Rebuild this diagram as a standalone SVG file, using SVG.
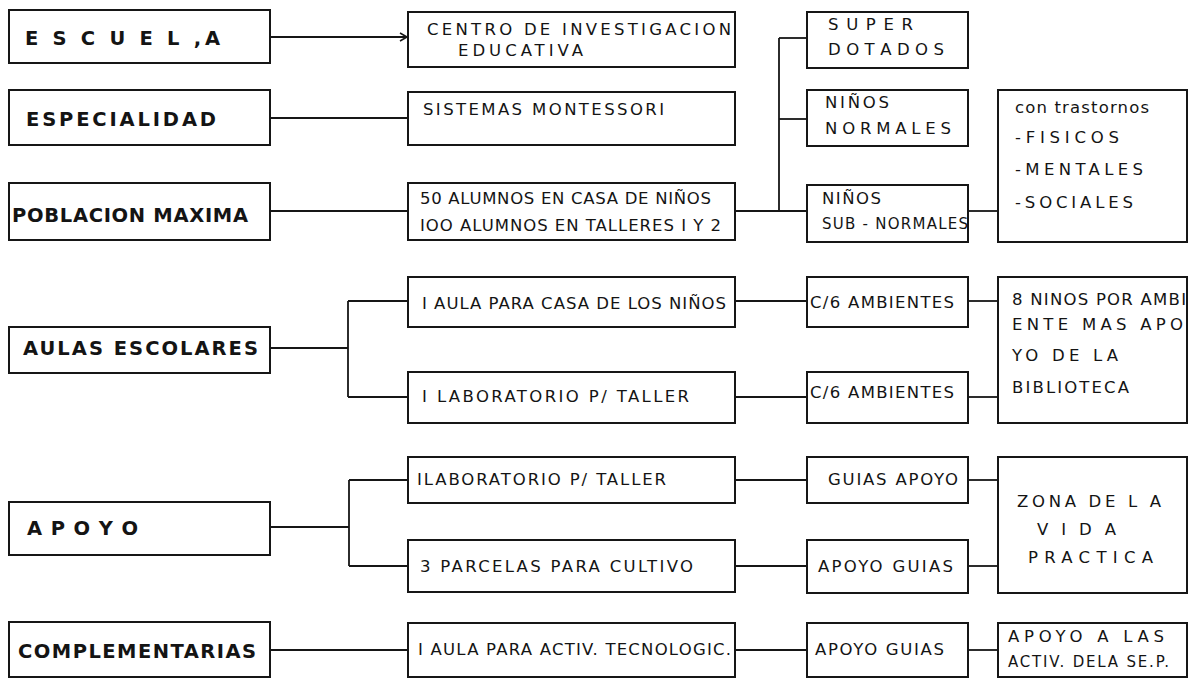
<svg xmlns="http://www.w3.org/2000/svg" width="1190" height="678" viewBox="0 0 1190 678">
<style>
.box{fill:#fff;stroke:#161616;stroke-width:2}
.c{fill:none;stroke:#161616;stroke-width:1.8}
text{font-family:"DejaVu Sans","Liberation Sans",Arial,sans-serif;fill:#141414}
.lt{font-size:19.5px;font-weight:bold}
.mt{font-size:16.5px}
.sm{font-size:15px}
</style>
<defs>
<marker id="arr" markerWidth="10" markerHeight="10" refX="8" refY="5" orient="auto" markerUnits="userSpaceOnUse">
<path d="M1,1 L8,5 L1,9" fill="none" stroke="#161616" stroke-width="1.6"/>
</marker>
</defs>
<rect width="1190" height="678" fill="#fff"/>
<g id="connectors">
<line class="c" x1="270" y1="37" x2="407" y2="37" marker-end="url(#arr)"/>
<line class="c" x1="270" y1="118" x2="408" y2="118"/>
<line class="c" x1="270" y1="211" x2="408" y2="211"/>
<line class="c" x1="735" y1="211" x2="807" y2="211"/>
<line class="c" x1="779" y1="38" x2="779" y2="211"/>
<line class="c" x1="779" y1="38" x2="807" y2="38"/>
<line class="c" x1="779" y1="119" x2="807" y2="119"/>
<line class="c" x1="968" y1="211" x2="998" y2="211"/>
<line class="c" x1="270" y1="348" x2="348" y2="348"/>
<line class="c" x1="348" y1="301" x2="348" y2="397"/>
<line class="c" x1="348" y1="301" x2="408" y2="301"/>
<line class="c" x1="348" y1="397" x2="408" y2="397"/>
<line class="c" x1="735" y1="301" x2="807" y2="301"/>
<line class="c" x1="735" y1="397" x2="807" y2="397"/>
<line class="c" x1="968" y1="301" x2="998" y2="301"/>
<line class="c" x1="968" y1="397" x2="998" y2="397"/>
<line class="c" x1="270" y1="527" x2="349" y2="527"/>
<line class="c" x1="349" y1="480" x2="349" y2="566"/>
<line class="c" x1="349" y1="480" x2="408" y2="480"/>
<line class="c" x1="349" y1="566" x2="408" y2="566"/>
<line class="c" x1="735" y1="480" x2="807" y2="480"/>
<line class="c" x1="735" y1="566" x2="807" y2="566"/>
<line class="c" x1="968" y1="480" x2="998" y2="480"/>
<line class="c" x1="968" y1="566" x2="998" y2="566"/>
<line class="c" x1="270" y1="650" x2="408" y2="650"/>
<line class="c" x1="735" y1="650" x2="807" y2="650"/>
<line class="c" x1="968" y1="650" x2="998" y2="650"/>
</g>
<g id="escuela"><rect class="box" x="9" y="10" width="261" height="53"/><text class="lt" x="25" y="45" textLength="195" lengthAdjust="spacing">E S C U E L ,A</text></g>
<g id="especialidad"><rect class="box" x="9" y="90" width="261" height="55"/><text class="lt" x="26" y="126" textLength="190" lengthAdjust="spacing">ESPECIALIDAD</text></g>
<g id="poblacion"><rect class="box" x="9" y="183" width="261" height="57"/><text class="lt" x="12" y="222" textLength="236" lengthAdjust="spacing">POBLACION MAXIMA</text></g>
<g id="aulas"><rect class="box" x="9" y="327" width="261" height="46"/><text class="lt" x="23" y="355" textLength="235" lengthAdjust="spacing">AULAS ESCOLARES</text></g>
<g id="apoyo"><rect class="box" x="9" y="502" width="261" height="53"/><text class="lt" x="27" y="535" textLength="111" lengthAdjust="spacing">A P O Y O</text></g>
<g id="complementarias"><rect class="box" x="9" y="622" width="261" height="55"/><text class="lt" x="18" y="658" textLength="238" lengthAdjust="spacing">COMPLEMENTARIAS</text></g>

<g id="centro"><rect class="box" x="408" y="12" width="327" height="55"/><text class="mt" x="427" y="35" textLength="304" lengthAdjust="spacing">CENTRO  DE  INVESTIGACION</text><text class="mt" x="458" y="56" textLength="125" lengthAdjust="spacing">EDUCATIVA</text></g>
<g id="sistemas"><rect class="box" x="408" y="92" width="327" height="53"/><text class="mt" x="423" y="115" textLength="241" lengthAdjust="spacing">SISTEMAS     MONTESSORI</text></g>
<g id="alumnos"><rect class="box" x="408" y="183" width="327" height="57"/><text class="mt" x="420" y="204" textLength="291" lengthAdjust="spacing">50 ALUMNOS EN CASA DE NIÑOS</text><text class="mt" x="420" y="231" textLength="301" lengthAdjust="spacing">IOO ALUMNOS EN TALLERES  I  Y 2</text></g>
<g id="aula-casa"><rect class="box" x="408" y="277" width="327" height="50"/><text class="mt" x="422" y="309" textLength="304" lengthAdjust="spacing">I  AULA  PARA  CASA DE LOS NIÑOS</text></g>
<g id="lab-taller"><rect class="box" x="408" y="372" width="327" height="51"/><text class="mt" x="422" y="402" textLength="267" lengthAdjust="spacing">I LABORATORIO P/ TALLER</text></g>
<g id="ilab"><rect class="box" x="408" y="457" width="327" height="46"/><text class="mt" x="417" y="485" textLength="249" lengthAdjust="spacing">ILABORATORIO  P/ TALLER</text></g>
<g id="parcelas"><rect class="box" x="408" y="540" width="327" height="52"/><text class="mt" x="420" y="572" textLength="273" lengthAdjust="spacing">3 PARCELAS  PARA  CULTIVO</text></g>
<g id="aula-activ"><rect class="box" x="408" y="623" width="327" height="54"/><text class="mt" x="418" y="655" textLength="313" lengthAdjust="spacing">I AULA PARA ACTIV. TECNOLOGIC.</text></g>

<g id="superdotados"><rect class="box" x="807" y="12" width="161" height="56"/><text class="mt" x="828" y="30" textLength="85" lengthAdjust="spacing">S U P E R</text><text class="mt" x="828" y="55" textLength="116" lengthAdjust="spacing">D O T A D O S</text></g>
<g id="normales"><rect class="box" x="807" y="90" width="161" height="56"/><text class="mt" x="825" y="108" textLength="64" lengthAdjust="spacing">NIÑOS</text><text class="mt" x="825" y="134" textLength="126" lengthAdjust="spacing">NORMALES</text></g>
<g id="subnormales"><rect class="box" x="807" y="185" width="161" height="57"/><text class="mt" x="822" y="204" textLength="59" lengthAdjust="spacing">NIÑOS</text><text class="sm" x="822" y="229" textLength="146" lengthAdjust="spacing">SUB - NORMALES</text></g>
<g id="c6-1"><rect class="box" x="807" y="277" width="161" height="50"/><text class="mt" x="810" y="308" textLength="144" lengthAdjust="spacing">C/6 AMBIENTES</text></g>
<g id="c6-2"><rect class="box" x="807" y="372" width="161" height="51"/><text class="mt" x="810" y="398" textLength="144" lengthAdjust="spacing">C/6 AMBIENTES</text></g>
<g id="guias-apoyo"><rect class="box" x="807" y="457" width="161" height="46"/><text class="mt" x="828" y="485" textLength="130" lengthAdjust="spacing">GUIAS  APOYO</text></g>
<g id="apoyo-guias-1"><rect class="box" x="807" y="540" width="161" height="53"/><text class="mt" x="818" y="572" textLength="135" lengthAdjust="spacing">APOYO  GUIAS</text></g>
<g id="apoyo-guias-2"><rect class="box" x="807" y="623" width="161" height="54"/><text class="mt" x="815" y="655" textLength="129" lengthAdjust="spacing">APOYO  GUIAS</text></g>

<g id="trastornos"><rect class="box" x="998" y="90" width="189" height="152"/><text class="mt" x="1015" y="113" textLength="134" lengthAdjust="spacing">con  trastornos</text><text class="mt" x="1015" y="143" textLength="104" lengthAdjust="spacing">-FISICOS</text><text class="mt" x="1015" y="175" textLength="128" lengthAdjust="spacing">-MENTALES</text><text class="mt" x="1015" y="208" textLength="118" lengthAdjust="spacing">-SOCIALES</text></g>
<g id="ninos-ambiente"><rect class="box" x="998" y="277" width="189" height="146"/><text class="mt" x="1012" y="305" textLength="174" lengthAdjust="spacing">8 NINOS  POR AMBI</text><text class="mt" x="1012" y="330" textLength="171" lengthAdjust="spacing">ENTE  MAS APO</text><text class="mt" x="1012" y="361" textLength="106" lengthAdjust="spacing">YO  DE LA</text><text class="mt" x="1012" y="393" textLength="117" lengthAdjust="spacing">BIBLIOTECA</text></g>
<g id="zona"><rect class="box" x="998" y="457" width="189" height="136"/><text class="mt" x="1017" y="507" textLength="144" lengthAdjust="spacing">ZONA DE  L A</text><text class="mt" x="1037" y="535" textLength="79" lengthAdjust="spacing">V I D A</text><text class="mt" x="1028" y="563" textLength="125" lengthAdjust="spacing">PRACTICA</text></g>
<g id="apoyo-sep"><rect class="box" x="998" y="623" width="189" height="54"/><text class="mt" x="1008" y="642" textLength="156" lengthAdjust="spacing">APOYO  A  LAS</text><text class="sm" x="1008" y="667" textLength="161" lengthAdjust="spacing">ACTIV. DELA SE.P.</text></g>
</svg>
